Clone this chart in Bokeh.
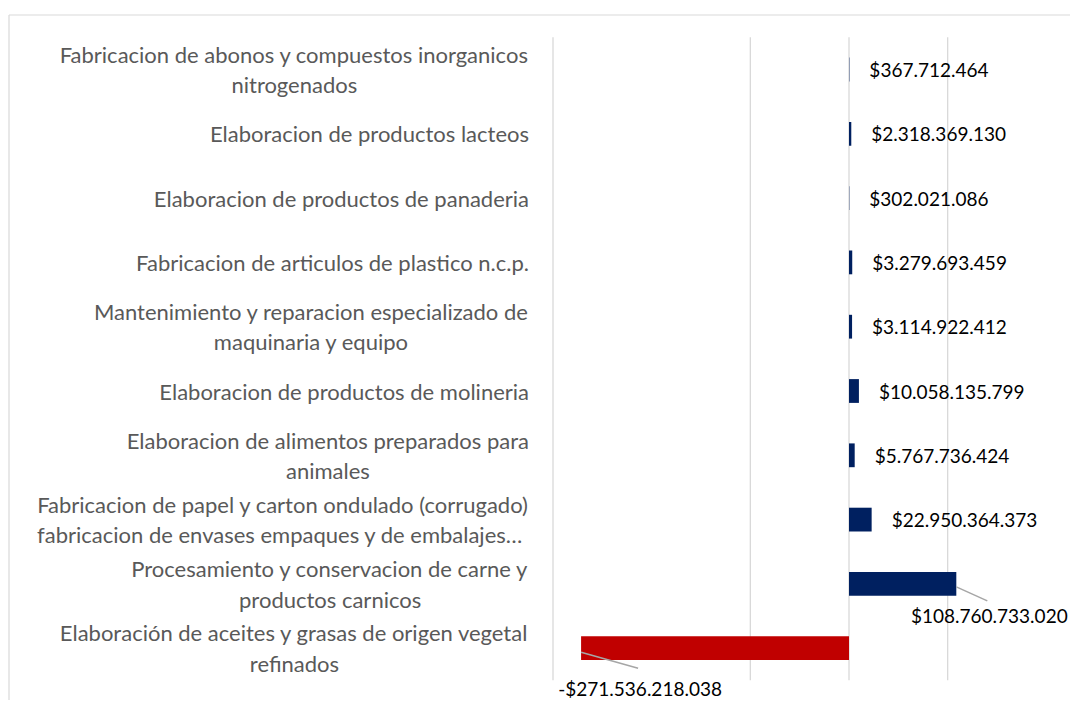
from bokeh.plotting import figure
from bokeh.models import Range1d, ColumnDataSource
from bokeh.core.properties import value
from bokeh.embed import file_html
from bokeh.resources import INLINE

# ---------------- data ----------------
categories = [
    "Fabricacion de abonos y compuestos inorganicos\nnitrogenados",
    "Elaboracion de productos lacteos",
    "Elaboracion de productos de panaderia",
    "Fabricacion de articulos de plastico n.c.p.",
    "Mantenimiento y reparacion especializado de\nmaquinaria y equipo",
    "Elaboracion de productos de molineria",
    "Elaboracion de alimentos preparados para\nanimales",
    "Fabricacion de papel y carton ondulado (corrugado)\nfabricacion de envases  empaques y de embalajes\u2026",
    "Procesamiento y conservacion de carne y\nproductos carnicos",
    "Elaboraci\u00f3n de aceites y grasas de origen vegetal\nrefinados",
]
values = [367712464, 2318369130, 302021086, 3279693459, 3114922412,
          10058135799, 5767736424, 22950364373, 108760733020, -271536218038]
grid_ticks = [-100e9, 0, 100e9]
axis_min = -300e9

# ---------------- layout / style ----------------
W, H = 1070, 700
FRAME_LEFT_PX, FRAME_TOP_PX = 0, 0
AXIS_PX, ZERO_PX = 552.5, 848.5
PX_PER = (ZERO_PX - AXIS_PX) / (0 - axis_min)
TOP_ROW_PX, ROW_PX = 69, 64.3
BORDER_LEFT_PX, BORDER_TOP_PX = 8.5, 14.5
N = len(categories)

x_start = axis_min - (AXIS_PX - FRAME_LEFT_PX) / PX_PER
x_end = x_start + W / PX_PER
y_end = (N - 1) + (TOP_ROW_PX - FRAME_TOP_PX) / ROW_PX
y_start = y_end - H / ROW_PX

def fmt(v):
    s = f"{abs(v):,}".replace(",", ".")
    return ("-$" if v < 0 else "$") + s

ys = [N - 1 - i for i in range(N)]
colors = ["#C00000" if v < 0 else "#002060" for v in values]

p = figure(width=W, height=H, output_backend="svg", toolbar_location=None,
           x_range=Range1d(x_start, x_end), y_range=Range1d(y_start, y_end),
           min_border=0, outline_line_color=None)
p.axis.visible = False
p.grid.visible = False

# chart border (left and top visible)
bx = x_start + (BORDER_LEFT_PX - FRAME_LEFT_PX) / PX_PER
by = y_end - (BORDER_TOP_PX - FRAME_TOP_PX) / ROW_PX
p.segment(x0=[bx, bx], y0=[y_start, by], x1=[bx, x_end], y1=[by, by],
          line_color="#d9d9d9", line_width=1.2)

# gridlines + axis line
gx = [axis_min] + grid_ticks
p.segment(x0=gx, x1=gx, y0=[-0.5] * len(gx), y1=[N - 0.5] * len(gx),
          line_color="#d9d9d9", line_width=1.3)

# bars
src = ColumnDataSource(dict(y=ys, v=values, c=colors))
p.hbar(y="y", left=0, right="v", height=0.37, fill_color="c", line_color=None,
       source=src)

# category labels
p.text(x=[axis_min] * N, y=ys, text=categories, x_offset=-24,
       anchor="center_right", text_align="center", text_baseline="middle",
       text_font=value("Lato"), text_font_size="22px", text_color="#595959",
       text_line_height=1.13)

# value labels: normal ones to the right of the bar end
special = {8: dict(dx=33, dy=31.6, l0=3, l1=(31, 17)),
           9: dict(dx=59, dy=40, l0=4, l1=(57, 20))}
norm = [i for i in range(N) if i not in special]
p.text(x=[values[i] for i in norm], y=[ys[i] for i in norm],
       text=[fmt(values[i]) for i in norm], x_offset=20,
       text_align="left", text_baseline="middle",
       text_font=value("Lato"), text_font_size="19px", text_color="#000000")

for i, s in special.items():
    p.text(x=[values[i]], y=[ys[i]], text=[fmt(values[i])],
           x_offset=s["dx"], y_offset=s["dy"],
           text_align="center", text_baseline="middle",
           text_font=value("Lato"), text_font_size="19px", text_color="#000000")
    p.segment(x0=[values[i]], y0=[ys[i] - s["l0"] / ROW_PX],
              x1=[values[i] + s["l1"][0] / PX_PER], y1=[ys[i] - s["l1"][1] / ROW_PX],
              line_color="#a6a6a6", line_width=1.5)

open("out.html", "w").write(file_html(p, INLINE))
